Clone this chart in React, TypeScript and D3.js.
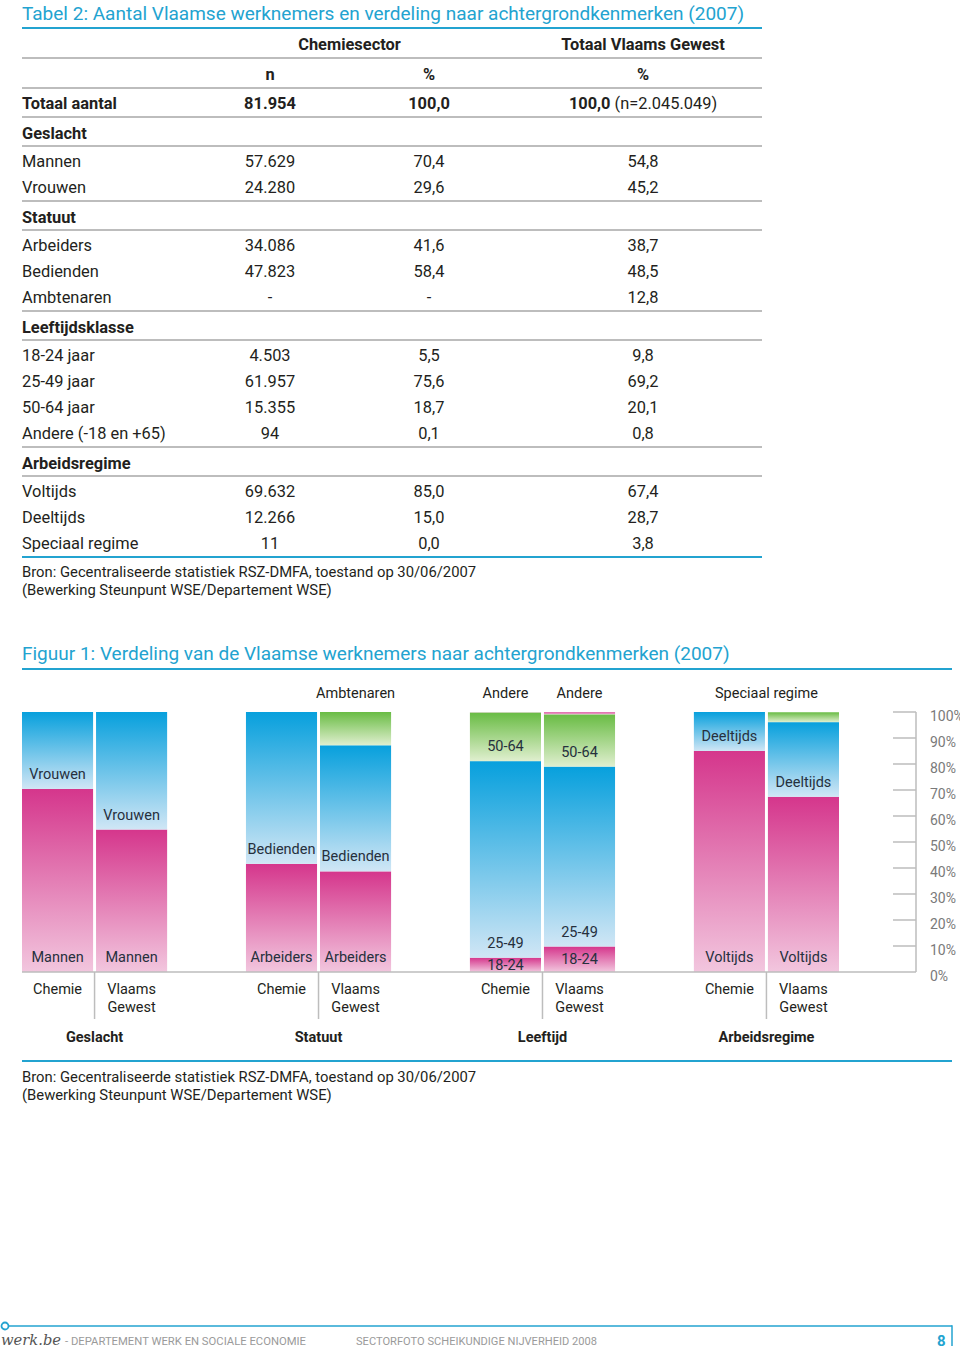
import React from "react";
import * as d3 from "d3";

// ---------- TABLE DATA ----------
const tableTitle = "Tabel 2: Aantal Vlaamse werknemers en verdeling naar achtergrondkenmerken (2007)";
const tableColHeads = ["Chemiesector", "Totaal Vlaams Gewest"];
const tableSubHeads = ["n", "%", "%"];
const tableTotalExtra = "(n=2.045.049)";
// [label, n, pct chemie, pct Vlaams Gewest, kind]
const tableRows: [string, string, string, string, string][] = [
  ["Totaal aantal", "81.954", "100,0", "100,0", "total"],
  ["Geslacht", "", "", "", "section"],
  ["Mannen", "57.629", "70,4", "54,8", "row"],
  ["Vrouwen", "24.280", "29,6", "45,2", "row"],
  ["Statuut", "", "", "", "section"],
  ["Arbeiders", "34.086", "41,6", "38,7", "row"],
  ["Bedienden", "47.823", "58,4", "48,5", "row"],
  ["Ambtenaren", "-", "-", "12,8", "row"],
  ["Leeftijdsklasse", "", "", "", "section"],
  ["18-24 jaar", "4.503", "5,5", "9,8", "row"],
  ["25-49 jaar", "61.957", "75,6", "69,2", "row"],
  ["50-64 jaar", "15.355", "18,7", "20,1", "row"],
  ["Andere (-18 en +65)", "94", "0,1", "0,8", "row"],
  ["Arbeidsregime", "", "", "", "section"],
  ["Voltijds", "69.632", "85,0", "67,4", "row"],
  ["Deeltijds", "12.266", "15,0", "28,7", "row"],
  ["Speciaal regime", "11", "0,0", "3,8", "row"],
];
const sourceLines = [
  "Bron: Gecentraliseerde statistiek RSZ-DMFA, toestand op 30/06/2007",
  "(Bewerking Steunpunt WSE/Departement WSE)",
];

// ---------- CHART DATA ----------
const chartTitle = "Figuur 1: Verdeling van de Vlaamse werknemers naar achtergrondkenmerken (2007)";
const groups = ["Geslacht", "Statuut", "Leeftijd", "Arbeidsregime"];
const bars = ["Chemie", "Vlaams Gewest"];
const barLabelLines = [["Chemie"], ["Vlaams", "Gewest"]];
const geslachtCats = ["Mannen", "Vrouwen"];
const geslachtChemie = [70.4, 29.6];
const geslachtVG = [54.8, 45.2];
const statuutCats = ["Arbeiders", "Bedienden", "Ambtenaren"];
const statuutChemie = [41.6, 58.4, 0];
const statuutVG = [38.7, 48.5, 12.8];
const leeftijdCats = ["18-24", "25-49", "50-64", "Andere"];
const leeftijdChemie = [5.5, 75.6, 18.7, 0.1];
const leeftijdVG = [9.8, 69.2, 20.1, 0.8];
const regimeCats = ["Voltijds", "Deeltijds", "Speciaal regime"];
const regimeChemie = [85.0, 15.0, 0.0];
const regimeVG = [67.4, 28.7, 3.8];
const yTicks = [0, 10, 20, 30, 40, 50, 60, 70, 80, 90, 100];

const groupCats = [geslachtCats, statuutCats, leeftijdCats, regimeCats];
const groupValues = [
  [geslachtChemie, geslachtVG],
  [statuutChemie, statuutVG],
  [leeftijdChemie, leeftijdVG],
  [regimeChemie, regimeVG],
];
// colour key per segment
const groupColors = [
  ["pink", "blue"],
  ["pink", "blue", "green"],
  ["pink", "blue", "green", "pink"],
  ["pink", "blue", "green"],
];
// how the last (small) category is labelled: none / above VG bar / above each bar / above group
const topLabelMode = ["none", "vg", "each", "group"];

const CYAN = "#23a3d0";
const GRAY = "#bdbdbd";
const TXT = "#231f20";
const BAR_TXT = "#26303d";
const FONT = "Roboto, 'Open Sans', sans-serif";

const gradients: Record<string, [string, string]> = {
  pink: ["#d5368c", "#f2c6de"],
  blue: ["#07a0dd", "#d0e6f5"],
  green: ["#69bc44", "#e0efcf"],
};

function Table() {
  const colN = 270, colP = 429, colVG = 643, left = 22, right = 762;
  type R = { cy: number; line: number | null; kind: string; r?: [string, string, string, string, string] };
  const rows: R[] = [];
  let cy = 44;
  rows.push({ cy, line: cy + 14, kind: "h1" });
  cy += 30;
  rows.push({ cy, line: cy + 14, kind: "h2" });
  cy += 29;
  let prevKind = "";
  let prevLine = true;
  tableRows.forEach((r, i) => {
    if (i > 0) {
      if (prevLine) cy += prevKind === "section" ? 28 : 30;
      else cy += 26;
    }
    const next = tableRows[i + 1];
    const hasLine = r[4] === "total" || r[4] === "section" || !next || next[4] === "section";
    const line = hasLine ? cy + (r[4] === "section" ? 13 : 14) : null;
    rows.push({ cy, line, kind: r[4], r });
    prevKind = r[4];
    prevLine = hasLine;
  });
  const lastLine = rows[rows.length - 1].line as number;
  const FS = 16.4;
  return (
    <g fontFamily={FONT}>
      <text x={left} y={20} fontSize={19} fill={CYAN}>{tableTitle}</text>
      <line x1={left} x2={right} y1={28} y2={28} stroke={CYAN} strokeWidth={2} />
      {rows.map((row, i) => {
        const els: any[] = [];
        if (row.line !== null && i < rows.length - 1) {
          els.push(<line key="l" x1={left} x2={right} y1={row.line} y2={row.line} stroke={GRAY} strokeWidth={2} />);
        }
        if (row.kind === "h1") {
          els.push(<text key="a" x={(colN + colP) / 2} y={row.cy} dy="0.35em" textAnchor="middle" fontWeight={700} fontSize={FS}>{tableColHeads[0]}</text>);
          els.push(<text key="b" x={colVG} y={row.cy} dy="0.35em" textAnchor="middle" fontWeight={700} fontSize={FS}>{tableColHeads[1]}</text>);
        } else if (row.kind === "h2") {
          [colN, colP, colVG].forEach((x, j) =>
            els.push(<text key={"h" + j} x={x} y={row.cy} dy="0.35em" textAnchor="middle" fontWeight={700} fontSize={FS}>{tableSubHeads[j]}</text>)
          );
        } else if (row.r) {
          const r = row.r;
          const bold = r[4] === "total" || r[4] === "section";
          els.push(<text key="lab" x={left} y={row.cy} dy="0.35em" fontWeight={bold ? 700 : 400} fontSize={FS}>{r[0]}</text>);
          if (r[4] !== "section") {
            els.push(<text key="n" x={colN} y={row.cy} dy="0.35em" textAnchor="middle" fontWeight={bold ? 700 : 400} fontSize={FS}>{r[1]}</text>);
            els.push(<text key="p" x={colP} y={row.cy} dy="0.35em" textAnchor="middle" fontWeight={bold ? 700 : 400} fontSize={FS}>{r[2]}</text>);
            if (r[4] === "total") {
              els.push(
                <text key="v" x={colVG} y={row.cy} dy="0.35em" textAnchor="middle" fontSize={FS}>
                  <tspan fontWeight={700}>{r[3]}</tspan>
                  <tspan> {tableTotalExtra}</tspan>
                </text>
              );
            } else {
              els.push(<text key="v" x={colVG} y={row.cy} dy="0.35em" textAnchor="middle" fontSize={FS}>{r[3]}</text>);
            }
          }
        }
        return <g key={i} fill={TXT}>{els}</g>;
      })}
      <line x1={left} x2={right} y1={lastLine} y2={lastLine} stroke={CYAN} strokeWidth={2} />
      {sourceLines.map((s, i) => (
        <text key={i} x={left} y={lastLine + 15 + i * 18} dy="0.35em" fontSize={14.8} fill={TXT}>{s}</text>
      ))}
    </g>
  );
}

function Chart() {
  const left = 22;
  const y = d3.scaleLinear().domain([0, 100]).range([972, 712]);
  const gx = d3.scaleBand<string>().domain(groups).range([22, 839]).paddingInner(0.352).paddingOuter(0);
  const bx = d3.scaleBand<string>().domain(bars).range([0, gx.bandwidth()]).paddingInner(0.04);
  const axisX = 916;
  const LS = 14.5;
  return (
    <g fontFamily={FONT}>
      <defs>
        {Object.entries(gradients).map(([k, [c0, c1]]) => (
          <linearGradient key={k} id={"g-" + k} x1="0" y1="0" x2="0" y2="1">
            <stop offset="0" stopColor={c0} />
            <stop offset="1" stopColor={c1} />
          </linearGradient>
        ))}
      </defs>
      <text x={left} y={660} fontSize={19} fill={CYAN}>{chartTitle}</text>
      <line x1={left} x2={952} y1={669} y2={669} stroke={CYAN} strokeWidth={2} />

      {groups.map((g, gi) => {
        const cats = groupCats[gi];
        const gStart = gx(g) as number;
        return (
          <g key={g}>
            {bars.map((b, bi) => {
              const vals = groupValues[gi][bi];
              const cum = d3.cumsum(vals);
              const x0 = gStart + (bx(b) as number);
              const w = bx.bandwidth();
              return (
                <g key={b}>
                  {vals.map((v, si) => {
                    const top = y(cum[si]), bottom = y(cum[si] - v);
                    return (
                      <rect key={si} x={x0} y={top} width={w} height={Math.max(0, bottom - top)} fill={`url(#g-${groupColors[gi][si]})`} />
                    );
                  })}
                  {vals.map((v, si) => {
                    const isTop = topLabelMode[gi] !== "none" && si === vals.length - 1;
                    if (isTop) return null;
                    const top = y(cum[si]), bottom = y(cum[si] - v);
                    const cy = Math.max(bottom - 15, (top + bottom) / 2);
                    return (
                      <text key={"t" + si} x={x0 + w / 2} y={cy} dy="0.35em" textAnchor="middle" fontSize={LS} fill={BAR_TXT}>{cats[si]}</text>
                    );
                  })}
                  {(topLabelMode[gi] === "each" || (topLabelMode[gi] === "vg" && bi === 1)) && (
                    <text x={x0 + w / 2} y={693} dy="0.35em" textAnchor="middle" fontSize={LS} fill={TXT}>{cats[cats.length - 1]}</text>
                  )}
                  {barLabelLines[bi].map((t, li) => (
                    <text key={"c" + li} x={x0 + w / 2} y={989 + li * 18} dy="0.35em" textAnchor="middle" fontSize={LS} fill={TXT}>{t}</text>
                  ))}
                </g>
              );
            })}
            {topLabelMode[gi] === "group" && (
              <text x={gStart + gx.bandwidth() / 2} y={693} dy="0.35em" textAnchor="middle" fontSize={LS} fill={TXT}>{cats[cats.length - 1]}</text>
            )}
            <line
              x1={gStart + gx.bandwidth() / 2} x2={gStart + gx.bandwidth() / 2}
              y1={y(0)} y2={1019} stroke={GRAY} strokeWidth={1.5}
            />
            <text x={gStart + gx.bandwidth() / 2} y={1037} dy="0.35em" textAnchor="middle" fontSize={LS} fontWeight={700} fill={TXT}>{g}</text>
          </g>
        );
      })}

      <line x1={left} x2={axisX} y1={y(0)} y2={y(0)} stroke={GRAY} strokeWidth={1.5} />
      <line x1={axisX} x2={axisX} y1={y(100)} y2={y(0)} stroke={GRAY} strokeWidth={1.5} />
      {yTicks.map((t) => (
        <g key={t}>
          {t > 0 && <line x1={893} x2={axisX} y1={y(t)} y2={y(t)} stroke={GRAY} strokeWidth={1.5} />}
          <text x={930} y={y(t) + 4} dy="0.35em" fontSize={14} fill="#7a7a7a">{t + "%"}</text>
        </g>
      ))}

      <line x1={left} x2={952} y1={1061} y2={1061} stroke={CYAN} strokeWidth={2} />
      {sourceLines.map((s, i) => (
        <text key={i} x={left} y={1077 + i * 18} dy="0.35em" fontSize={14.8} fill={TXT}>{s}</text>
      ))}
    </g>
  );
}

function Footer() {
  return (
    <g>
      <circle cx={5} cy={1326} r={3.5} fill="#fff" stroke={CYAN} strokeWidth={1.8} />
      <line x1={8.5} x2={952} y1={1326} y2={1326} stroke={CYAN} strokeWidth={1.5} />
      <line x1={952} x2={952} y1={1325.25} y2={1346} stroke={CYAN} strokeWidth={1.5} />
      <text x={1} y={1345} fontFamily="'DejaVu Serif', serif" fontStyle="italic" fontSize={15} fill="#555" textLength={60} lengthAdjust="spacingAndGlyphs">werk.be</text>
      <text x={65} y={1345} fontFamily={FONT} fontSize={11} fill="#9a9a9a" textLength={241} lengthAdjust="spacingAndGlyphs">- DEPARTEMENT WERK EN SOCIALE ECONOMIE</text>
      <text x={356} y={1345} fontFamily={FONT} fontSize={11} fill="#9a9a9a" textLength={241} lengthAdjust="spacingAndGlyphs">SECTORFOTO SCHEIKUNDIGE NIJVERHEID 2008</text>
      <text x={937} y={1346} fontFamily={FONT} fontSize={15} fontWeight={700} fill={CYAN}>8</text>
    </g>
  );
}

export default function App() {
  return (
    <div style={{ position: "absolute", left: 0, top: 0, width: 960, height: 1354, background: "#fff" }}>
      <svg width={960} height={1354} style={{ display: "block" }}>
        <rect width={960} height={1354} fill="#fff" />
        <Table />
        <Chart />
        <Footer />
      </svg>
    </div>
  );
}
